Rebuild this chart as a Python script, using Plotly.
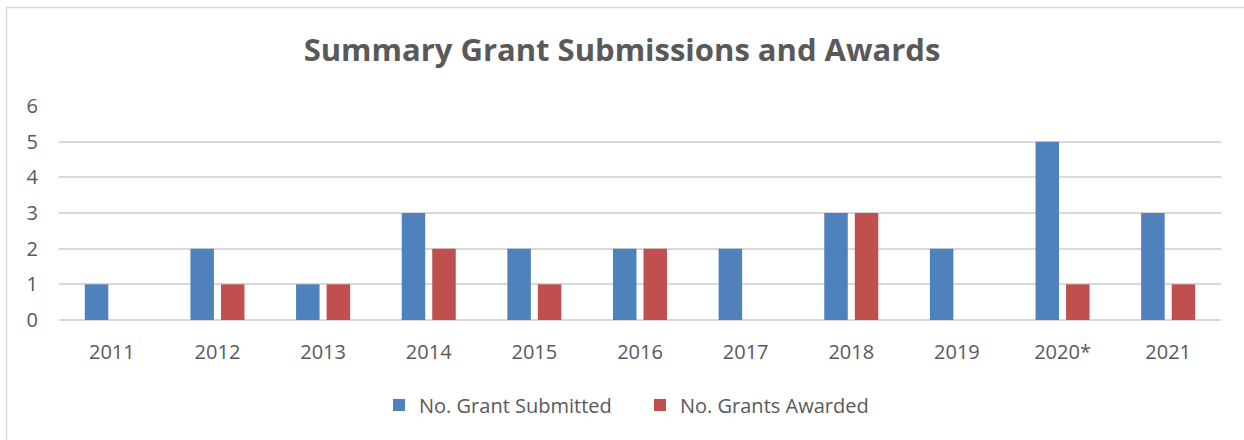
import plotly.graph_objects as go

years = ["2011", "2012", "2013", "2014", "2015", "2016", "2017", "2018", "2019", "2020*", "2021"]
submitted = [1, 2, 1, 3, 2, 2, 2, 3, 2, 5, 3]
awarded = [0, 1, 1, 2, 1, 2, 0, 3, 0, 1, 1]

font_family = "Open Sans, Noto Sans, sans-serif"
gray = "#595959"

fig = go.Figure()
fig.add_trace(go.Bar(x=years, y=submitted, name="No. Grant Submitted", legend="legend",
                     showlegend=True,
                     marker=dict(color="#4f81bd", line=dict(width=0))))
fig.add_trace(go.Bar(x=years, y=awarded, name="No. Grants Awarded", legend="legend2",
                     showlegend=True,
                     marker=dict(color="#c0504d", line=dict(width=0))))

legend_common = dict(orientation="h", y=-0.397, yanchor="middle", xanchor="left",
                     font=dict(size=20, color=gray), itemwidth=30, bgcolor="rgba(0,0,0,0)",
                     visible=True)

fig.update_layout(
    width=1244, height=440, showlegend=True,
    paper_bgcolor="white", plot_bgcolor="white",
    margin=dict(l=59, r=23, t=106, b=120),
    barmode="group", bargap=0.422, bargroupgap=0.23,
    title=dict(text="<b>Summary Grant Submissions and Awards</b>",
               x=0.5, xanchor="center", y=0.886, yanchor="middle",
               font=dict(family=font_family, size=31, color=gray)),
    font=dict(family=font_family, size=20, color=gray),
    xaxis=dict(showgrid=False, showline=False, ticks="", tickfont=dict(size=20, color=gray),
               ticklabelstandoff=18),
    yaxis=dict(range=[0, 6], dtick=1, showgrid=True, gridcolor="#d9d9d9", gridwidth=1.5,
               zeroline=True, zerolinecolor="#d9d9d9", zerolinewidth=1.5,
               tickfont=dict(size=20, color=gray), ticklabelstandoff=20),
    legend=dict(x=0.2754, **legend_common),
    legend2=dict(x=0.5000, **legend_common),
    shapes=[dict(type="rect", xref="paper", yref="paper", x0=-0.0452, x1=1.2, y0=-1.0, y1=1.46,
                 line=dict(color="#d9d9d9", width=1.5))],
)

fig.write_html("out.html", config={"displayModeBar": False},
               post_script="document.body.style.margin='0';document.body.style.overflow='hidden';")
